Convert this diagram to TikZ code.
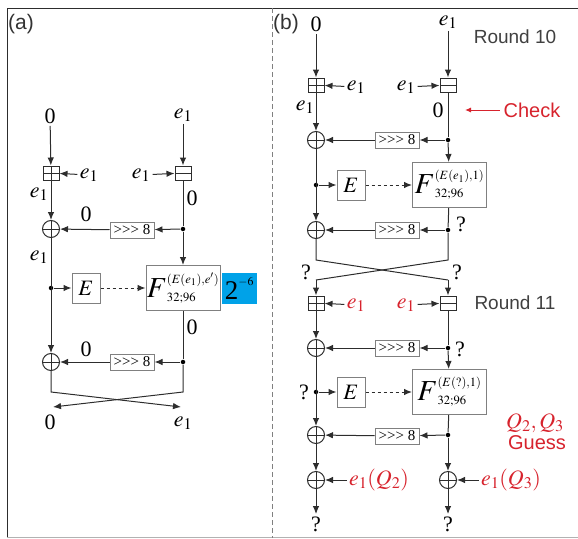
\documentclass[tikz,border=0pt]{standalone}
\usepackage{mathptmx}
\usepackage{fontspec}
\setmainfont{Liberation Serif}
\setsansfont{Liberation Sans}
\newfontfamily\rotfont{Liberation Serif}
\usetikzlibrary{arrows.meta}
\definecolor{chkred}{RGB}{215,35,45}
\definecolor{probblue}{RGB}{0,162,232}
\definecolor{wire}{RGB}{45,45,45}
\tikzset{
    arr/.style={-{Latex[length=8pt,width=6.5pt]}},
    addbox/.style={draw=wire,minimum width=16pt,minimum height=14pt,inner sep=0pt,
        path picture={\draw[wire] (path picture bounding box.west) -- (path picture bounding box.east)
        (path picture bounding box.north) -- (path picture bounding box.south);}},
    subbox/.style={draw=wire,minimum width=16pt,minimum height=14pt,inner sep=0pt,
        path picture={\draw[wire] (path picture bounding box.west) -- (path picture bounding box.east);}},
    xorc/.style={circle,draw=wire,minimum size=17pt,inner sep=0pt,
        path picture={\draw[wire] (path picture bounding box.west) -- (path picture bounding box.east)
        (path picture bounding box.north) -- (path picture bounding box.south);}},
    rotbox/.style={draw=gray,fill=white,minimum width=44pt,minimum height=16pt,inner sep=0pt,
        font=\rotfont\fontsize{15}{15}\selectfont},
    ebox/.style={draw=gray,minimum width=28pt,minimum height=30pt,inner sep=0pt,
        font=\fontsize{22}{22}\selectfont},
    fnbox/.style={draw=gray,minimum width=74pt,minimum height=45pt,inner sep=0pt,
        font=\fontsize{17}{18}\selectfont},
    probbox/.style={fill=probblue,minimum width=35pt,minimum height=31pt,inner sep=0pt,
        font=\fontsize{16}{16}\selectfont},
    jdot/.style={circle,fill=black,minimum size=4.5pt,inner sep=0pt},
    lbl/.style={font=\fontsize{22}{24}\selectfont,inner sep=2pt},
    rlbl/.style={lbl,text=chkred},
    rnd/.style={font=\sffamily\fontsize{19}{22}\selectfont,text=black!75},
    chk/.style={font=\sffamily\fontsize{20}{22}\selectfont,text=chkred},
}
\newcommand\bigF{\mbox{\fontsize{29}{29}\selectfont$F$}}
\begin{document}
\begin{tikzpicture}[x=1pt,y=-1pt,line width=1pt,draw=wire]
    \useasboundingbox (0,0) rectangle (578,538);
    \draw[wire] (578,8) -- (7,8) -- (7,538);
    \draw[gray!60] (7,537.5) -- (578,537.5);
    \draw[gray,dashed,dash pattern=on 5pt off 3pt] (272,8) -- (272,538);
    \node[font=\sffamily\fontsize{21}{22}\selectfont,text=black!80] (pa) at (21,24) {(a)};
    \node[font=\sffamily\fontsize{21}{22}\selectfont,text=black!80] (pb) at (286,24) {(b)};
    % (a)
    \node[lbl] (a0) at (50,116) {0};
    \node[lbl] (ae) at (183,115) {$e_1$};
    \node[addbox] (aadd) at (51,173) {};
    \node[subbox] (asub) at (183,173) {};
    \node[lbl] (aki) at (89,175) {$e_1$};
    \node[lbl] (akj) at (141,175) {$e_1$};
    \node[lbl] (al1) at (39,194) {$e_1$};
    \node[lbl] (ar1) at (192,198) {0};
    \node[xorc] (ax1) at (51,229) {};
    \node[rotbox] (arot1) at (132,230) {>>> 8};
    \node[jdot] (ad1) at (183,229) {};
    \node[lbl] (al2) at (86,214) {0};
    \node[lbl] (al3) at (39,257) {$e_1$};
    \node[jdot] (adE) at (51,288) {};
    \node[ebox] (aE) at (86,288) {$E$};
    \node[fnbox] (aF) at (183,288) {$\bigF^{(E(e_1),e')}_{32;96}$};
    \node[probbox] (ap) at (239.5,288.5) {$\mbox{\fontsize{27}{27}\selectfont 2}^{-6}$};
    \node[lbl] (ar2) at (192,327) {0};
    \node[xorc] (ax2) at (51,362) {};
    \node[rotbox] (arot2) at (132,362) {>>> 8};
    \node[jdot] (ad2) at (183,362) {};
    \node[lbl] (al4) at (86,349) {0};
    \coordinate (acl) at (51,392);
    \coordinate (acr) at (183,392);
    \coordinate (aendl) at (53,407);
    \coordinate (aendr) at (181,407);
    \node[lbl] (ao0) at (50,422) {0};
    \node[lbl] (aoe) at (183,423) {$e_1$};
    \draw[arr] (a0) -- (aadd);
    \draw[arr] (aadd) -- (ax1);
    \draw[arr] (ax1) -- (ax2);
    \draw[arr] (ae) -- (asub);
    \draw (asub) -- (ad1);
    \draw[arr] (ad1) -- (aF);
    \draw (aF) -- (ad2);
    \draw[arr] (aki) -- (aadd);
    \draw[arr] (akj) -- (asub);
    \draw[arr] (ad1) -- (arot1);
    \draw[arr] (arot1) -- (ax1);
    \draw[arr] (ad2) -- (arot2);
    \draw[arr] (arot2) -- (ax2);
    \draw[arr] (adE) -- (aE);
    \draw[arr,dashed] (aE) -- (aF);
    \draw[arr] (ax2) -- (acl) -- (aendr);
    \draw[arr] (ad2) -- (acr) -- (aendl);
    % (b)
    \node[lbl] (b0) at (316,24) {0};
    \node[lbl] (be) at (448,22) {$e_1$};
    \node[rnd] (rnd10) at (515,37) {Round 10};
    \node[addbox] (badd1) at (316,85) {};
    \node[subbox] (bsub1) at (448,85) {};
    \node[lbl] (bki) at (356,87) {$e_1$};
    \node[lbl] (bkj) at (406,87) {$e_1$};
    \node[lbl] (bl1) at (305,107) {$e_1$};
    \node[lbl] (br1) at (438,110) {0};
    \node[chk] (chk) at (532,110) {Check};
    \coordinate (chkt) at (465,110);
    \node[xorc] (bx1) at (316,140) {};
    \node[rotbox] (brot1) at (397,140) {>>> 8};
    \node[jdot] (bd1) at (448,140) {};
    \node[jdot] (bdE) at (316,185) {};
    \node[ebox] (bE) at (351,185) {$E$};
    \node[fnbox] (bF) at (449.5,185) {$\bigF^{(E(e_1),1)}_{32;96}$};
    \node[xorc] (bx2) at (316,230) {};
    \node[rotbox] (brot2) at (397,230) {>>> 8};
    \node[jdot] (bd2) at (448,230) {};
    \node[lbl] (bq1) at (461,224) {?};
    \coordinate (bcl) at (316,260);
    \coordinate (bcr) at (448,260);
    \coordinate (bml) at (316,280);
    \coordinate (bmr) at (448,280);
    \node[lbl] (bq2) at (306,272) {?};
    \node[lbl] (bq3) at (457,272) {?};
    \node[addbox] (badd2) at (316,303) {};
    \node[subbox] (bsub2) at (448,303) {};
    \node[rlbl] (bki2) at (356,305) {$e_1$};
    \node[rlbl] (bkj2) at (406,305) {$e_1$};
    \node[rnd] (rnd11) at (515,303) {Round 11};
    \node[xorc] (bx3) at (316,348) {};
    \node[rotbox] (brot3) at (397,348) {>>> 8};
    \node[jdot] (bd3) at (448,348) {};
    \node[lbl] (bq4) at (460,349) {?};
    \node[lbl] (bq5) at (304,392) {?};
    \node[jdot] (bdE2) at (316,392) {};
    \node[ebox] (bE2) at (351,392) {$E$};
    \node[fnbox] (bF2) at (449.5,392) {$\bigF^{(E(?),1)}_{32;96}$};
    \node[rlbl] (bqq) at (535,423) {$Q_2, Q_3$};
    \node[chk] (guess) at (537,443) {Guess};
    \node[xorc] (bx4) at (316,435) {};
    \node[rotbox] (brot4) at (397,436) {>>> 8};
    \node[jdot] (bd4) at (448,435) {};
    \node[xorc] (bx5) at (316,480) {};
    \node[xorc] (bx6) at (448,480) {};
    \node[rlbl] (bk5) at (379,480) {$e_1(Q_2)$};
    \node[rlbl] (bk6) at (511,480) {$e_1(Q_3)$};
    \node[lbl] (bo1) at (316,524) {?};
    \node[lbl] (bo2) at (448,524) {?};
    \draw[arr] (b0) -- (badd1);
    \draw[arr] (badd1) -- (bx1);
    \draw[arr] (bx1) -- (bx2);
    \draw[arr] (be) -- (bsub1);
    \draw (bsub1) -- (bd1);
    \draw[arr] (bd1) -- (bF);
    \draw (bF) -- (bd2);
    \draw[arr] (bki) -- (badd1);
    \draw[arr] (bkj) -- (bsub1);
    \draw[arr] (bd1) -- (brot1);
    \draw[arr] (brot1) -- (bx1);
    \draw[arr] (bd2) -- (brot2);
    \draw[arr] (brot2) -- (bx2);
    \draw[arr] (bdE) -- (bE);
    \draw[arr,dashed] (bE) -- (bF);
    \draw[chkred,-{Latex[length=6pt,width=5pt]}] (chk) -- (chkt);
    \draw (bx2) -- (bcl) -- (bmr);
    \draw (bd2) -- (bcr) -- (bml);
    \draw[arr] (bml) -- (badd2);
    \draw[arr] (bmr) -- (bsub2);
    \draw[arr] (badd2) -- (bx3);
    \draw[arr] (bx3) -- (bx4);
    \draw[arr] (bx4) -- (bx5);
    \draw[arr] (bx5) -- (bo1);
    \draw[arr] (bki2) -- (badd2);
    \draw[arr] (bkj2) -- (bsub2);
    \draw (bsub2) -- (bd3);
    \draw[arr] (bd3) -- (bF2);
    \draw (bF2) -- (bd4);
    \draw[arr] (bd4) -- (bx6);
    \draw[arr] (bx6) -- (bo2);
    \draw[arr] (bd3) -- (brot3);
    \draw[arr] (brot3) -- (bx3);
    \draw[arr] (bd4) -- (brot4);
    \draw[arr] (brot4) -- (bx4);
    \draw[arr] (bdE2) -- (bE2);
    \draw[arr,dashed] (bE2) -- (bF2);
    \draw[arr] (bk5) -- (bx5);
    \draw[arr] (bk6) -- (bx6);
\end{tikzpicture}
\end{document}
